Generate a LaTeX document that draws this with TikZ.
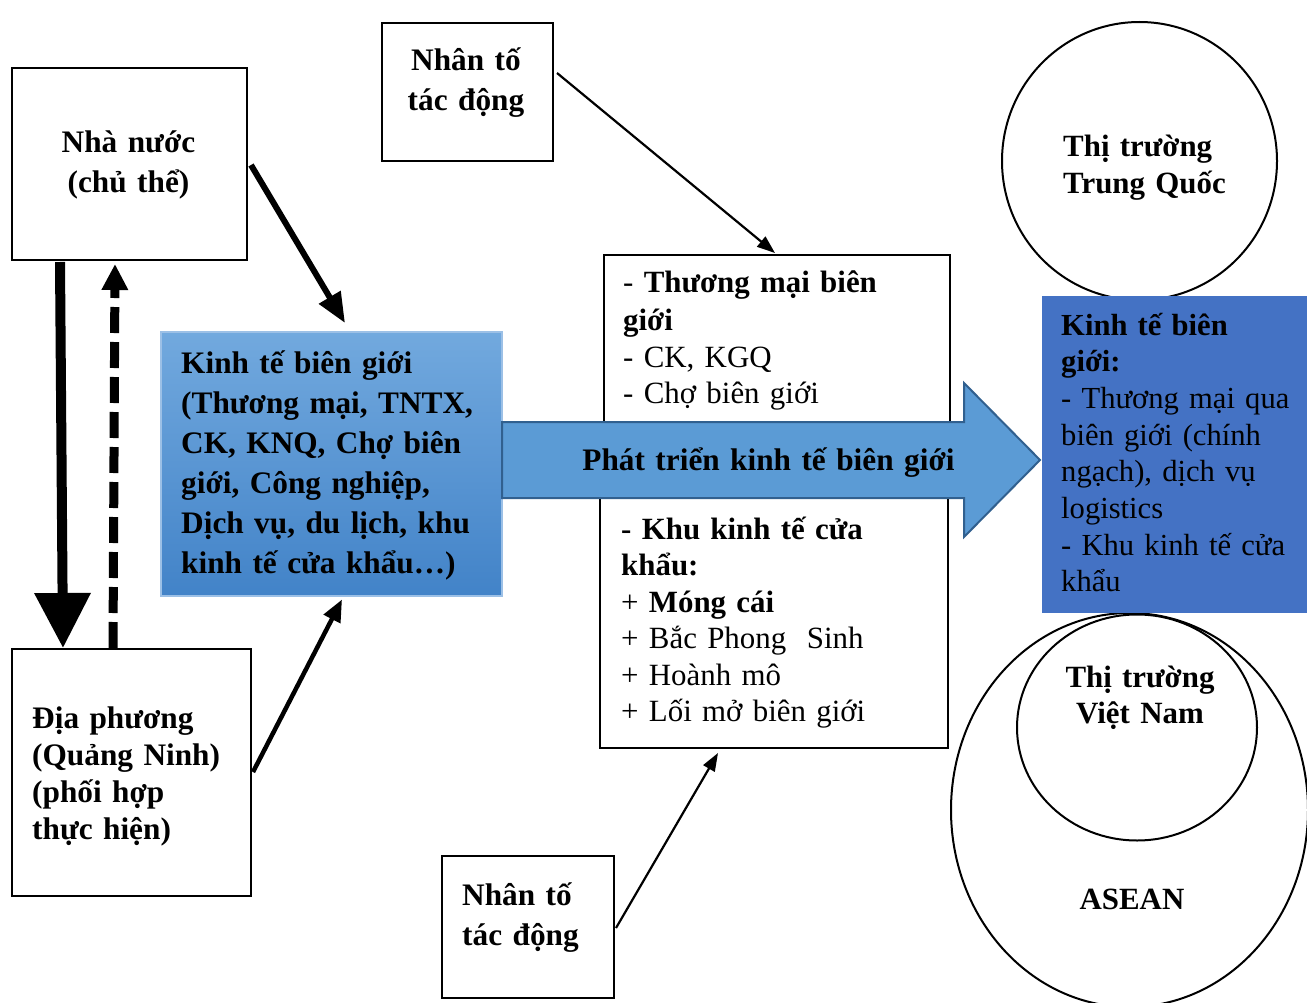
\documentclass[tikz,border=0pt]{standalone}
\usepackage{fontspec}
\setmainfont{Liberation Serif}
\usetikzlibrary{arrows.meta,calc,shapes.geometric}
\definecolor{ktTop}{HTML}{72A9DE}
\definecolor{ktBot}{HTML}{4283C8}
\definecolor{ktLine}{HTML}{9CC0E6}
\definecolor{arrFill}{HTML}{5B9BD5}
\definecolor{arrLine}{HTML}{31608F}
\definecolor{rbFill}{HTML}{4472C4}
\begin{document}
\begin{tikzpicture}[x=1pt,y=-1pt,
  box/.style={draw=black, line width=2pt, inner sep=0pt, anchor=north west},
  ring/.style={draw=black, line width=2pt, ellipse, inner sep=0pt},
  txtL/.style={inner sep=0pt, anchor=base west, align=left, text width=#1},
  txtC/.style={inner sep=0pt, anchor=base, align=center, text width=#1},
  bigB/.style={font=\fontsize{31.3}{40}\selectfont\bfseries},
  midB/.style={font=\fontsize{30.9}{36.5}\selectfont\bfseries},
  reg/.style={font=\fontsize{30.9}{37}\selectfont},
  conn/.style={draw=black, line width=#1},
]
\useasboundingbox (0,0) rectangle (1307,1003);
\fill[white] (0,0) rectangle (1307,1003);
\clip (0,0) rectangle (1307,1003);

% circles (drawn first, partly covered by the blue box)
\node[ring, minimum width=275pt, minimum height=278pt] (tq) at (1139.5,161) {};
\node[ring, minimum width=357pt, minimum height=394pt] (asean) at (1129.5,810) {};
\node[ring, minimum width=240pt, minimum height=226pt] (vn) at (1137,727.5) {};

% right blue box
\node[anchor=north west, inner sep=0pt, fill=rbFill, minimum width=275pt, minimum height=317pt] (rb) at (1042,296) {};

% boxes
\node[box, minimum width=235pt, minimum height=192pt] (nn) at (11,67) {};
\node[box, minimum width=171pt, minimum height=138pt] (nt1) at (381,22) {};
\node[box, minimum width=239pt, minimum height=247pt] (dp) at (11,648) {};
\node[box, minimum width=172pt, minimum height=142pt] (nt2) at (441,855) {};
\node[box, minimum width=346pt, minimum height=190pt] (mt) at (603,254) {};
\node[box, minimum width=348pt, minimum height=262pt] (mb) at (599,485) {};
\node[anchor=north west, inner sep=0pt, draw=ktLine, line width=1.5pt,
      top color=ktTop, bottom color=ktBot,
      minimum width=341pt, minimum height=264pt] (kt) at (160,331) {};

% big block arrow
\draw[fill=arrFill, draw=arrLine, line width=2pt, line join=miter]
  (502,422) -- (964,422) -- (964,383) -- (1040,460) -- (964,537) -- (964,498) -- (502,498) -- cycle;

% texts
\node[txtC=230pt, bigB] (nnT) at (128.5,153) {Nhà nước\\(chủ thể)};
\node[txtC=165pt, bigB] (nt1T) at (466,71) {Nhân tố\\tác động};
\node[txtL=320pt, bigB] (ktT) at (181,373) {Kinh tế biên giới\\(Thương mại, TNTX,\\CK, KNQ, Chợ biên\\giới, Công nghiệp,\\Dịch vụ, du lịch, khu\\kinh tế cửa khẩu…)};
\node[txtL=330pt, reg] (mtT) at (623,293) {- \textbf{Thương mại biên}\\\textbf{giới}\\- CK, KGQ\\- Chợ biên giới};
\node[txtC=460pt, bigB] (arrT) at (768.5,470) {Phát triển kinh tế biên giới};
\node[txtL=330pt, font=\fontsize{30.9}{36.5}\selectfont] (mbT) at (621,539) {\textbf{- Khu kinh tế cửa}\\\textbf{khẩu:}\\+ \textbf{Móng cái}\\+ Bắc Phong\ \ Sinh\\+ Hoành mô\\+ Lối mở biên giới};
\node[txtL=260pt, font=\fontsize{30.6}{36.7}\selectfont] (rbT) at (1061,335) {\textbf{Kinh tế biên}\\\textbf{giới:}\\- Thương mại qua\\biên giới (chính\\ngạch), dịch vụ\\logistics\\- Khu kinh tế cửa\\khẩu};
\node[txtL=220pt, midB] (tqT) at (1063,157) {Thị trường\\Trung Quốc};
\node[txtC=200pt, midB] (vnT) at (1140,687) {Thị trường\\Việt Nam};
\node[txtC=200pt, midB] (aseanT) at (1132,909) {ASEAN};
\node[txtL=230pt, font=\fontsize{31.3}{37.3}\selectfont\bfseries] (dpT) at (32,728) {Địa phương\\(Quảng Ninh)\\(phối hợp\\thực hiện)};
\node[txtL=160pt, bigB] (nt2T) at (462,905) {Nhân tố\\tác động};

% connectors
\draw[conn=6pt, -{Triangle[length=30pt,width=24pt]}]
  ($(nn.north east)+(3,98)$) -- ($(kt.north west)+(185,-8)$);
\draw[conn=10pt, -{Triangle[length=55pt,width=54pt]}]
  ($(nn.south west)+(49,1)$) -- ($(dp.north west)+(52,0)$);
\draw[conn=9pt, dash pattern=on 26pt off 9pt, -{Triangle[length=26pt,width=25pt]}]
  ($(dp.north west)+(102,0)$) -- ($(nn.south west)+(104,3)$);
\draw[conn=4.5pt, -{Triangle[length=22pt,width=18pt]}]
  ($(dp.north east)+(1,124)$) -- ($(kt.south west)+(182,3)$);
\draw[conn=2.2pt, -{Triangle[length=18pt,width=13pt]}]
  ($(nt1.north east)+(3,51)$) -- ($(mt.north west)+(172,-1)$);
\draw[conn=2.2pt, -{Triangle[length=18pt,width=13pt]}]
  ($(nt2.north east)+(1,73)$) -- ($(mb.south west)+(119,4)$);
\end{tikzpicture}
\end{document}
